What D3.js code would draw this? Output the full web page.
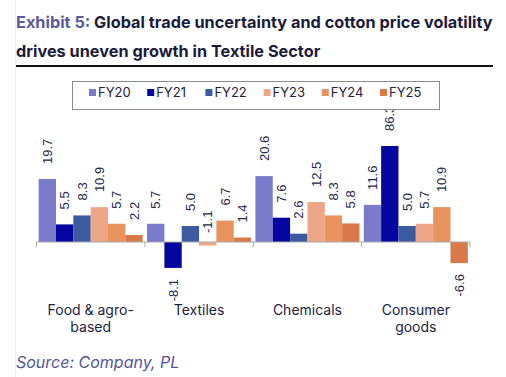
<!DOCTYPE html>
<html>
<head>
<meta charset="utf-8">
<script src="https://cdn.jsdelivr.net/npm/d3@7"></script>
<style>
  body { margin: 0; background: #fff; }
  svg { display: block; }
  .title { font-family: Inter, "Noto Sans", sans-serif; font-weight: 700; font-size: 16.3px; fill: #1c1c3a; }
  .title .ex { fill: #5b5b9c; }
  .cat { font-family: Inter, "Noto Sans", sans-serif; font-size: 14px; fill: #22223f; }
  .val { font-family: "Liberation Sans", Arial, sans-serif; font-size: 13px; fill: #26264a; }
  .legend text { font-family: Inter, "Noto Sans", sans-serif; font-size: 13px; fill: #22223f; }
  .source { font-family: Inter, "Noto Sans", sans-serif; font-style: italic; font-size: 16px; fill: #55559a; }
</style>
</head>
<body>
<div id="chart"></div>
<script>
'use strict';

const categories = [['Food & agro-', 'based'], ['Textiles'], ['Chemicals'], ['Consumer', 'goods']];
const years = ['FY20', 'FY21', 'FY22', 'FY23', 'FY24', 'FY25'];
const growth = [
    [19.7, 5.5, 8.3, 10.9, 5.7, 2.2],
    [5.7, -8.1, 5.0, -1.1, 6.7, 1.4],
    [20.6, 7.6, 2.6, 12.5, 8.3, 5.8],
    [11.6, 86.3, 5.0, 5.7, 10.9, -6.6]
];
const colors = ['#7a7ccb', '#0505a0', '#3c5aa0', '#eea786', '#e8925e', '#d97848'];

const width = 506, height = 377;

const svg = d3.select('#chart').append('svg')
    .attr('width', width)
    .attr('height', height);

// faint page edge
svg.append('line')
    .attr('x1', 15.5).attr('x2', 15.5)
    .attr('y1', 0).attr('y2', height)
    .attr('stroke', '#eeeef6');

// Title
const title = svg.append('text').attr('class', 'title').attr('x', 16).attr('y', 28);
title.append('tspan').attr('class', 'ex').text('Exhibit 5: ');
title.append('tspan').text('Global trade uncertainty and cotton price volatility');
svg.append('text').attr('class', 'title').attr('x', 16).attr('y', 57)
    .text('drives uneven growth in Textile Sector');

svg.append('line')
    .attr('x1', 16).attr('x2', 493)
    .attr('y1', 66).attr('y2', 66)
    .attr('stroke', '#111').attr('stroke-width', 2);

// Scales - value axis is capped at 30, so the 86.3 bar gets clipped
const x0 = d3.scaleBand()
    .domain(categories.map((d, i) => i))
    .range([36.5, 470])
    .paddingInner(0)
    .paddingOuter(0);

const x1 = d3.scaleBand()
    .domain(years)
    .range([0, x0.bandwidth()])
    .paddingOuter(0.125)
    .paddingInner(0);

const y = d3.scaleLinear()
    .domain([-10, 30])
    .range([274, 146])
    .clamp(true);

const groups = svg.append('g').selectAll('g.cat-group')
    .data(growth)
    .join('g')
    .attr('class', 'cat-group')
    .attr('transform', (d, i) => `translate(${x0(i)},0)`);

const barData = row => row.map((v, j) => ({ year: years[j], value: v, color: colors[j] }));

groups.selectAll('rect')
    .data(barData)
    .join('rect')
    .attr('x', d => x1(d.year))
    .attr('width', x1.bandwidth())
    .attr('y', d => Math.min(y(d.value), y(0)))
    .attr('height', d => Math.abs(y(d.value) - y(0)))
    .attr('fill', d => d.color);

// Rotated value labels (tiny negatives sit above the axis, like the original)
const above = d => d.value >= 0 || d.value > -2;

groups.selectAll('text.val')
    .data(barData)
    .join('text')
    .attr('class', 'val')
    .attr('transform', d => {
        const cx = x1(d.year) + x1.bandwidth() / 2;
        let yy;
        if (d.value >= 0) yy = y(d.value) - 15;
        else if (above(d)) yy = y(0) - 9;
        else yy = y(d.value) + 11;
        return `translate(${cx},${yy}) rotate(-90)`;
    })
    .attr('dy', '0.35em')
    .attr('text-anchor', d => above(d) ? 'start' : 'end')
    .text(d => d.value.toFixed(1));

// Category axis
const axis = svg.append('g').attr('transform', `translate(0,${y(0)})`);
axis.append('line')
    .attr('x1', x0.range()[0]).attr('x2', x0.range()[1])
    .attr('stroke', '#a8a8a8');
axis.selectAll('line.tick')
    .data(d3.range(categories.length + 1))
    .join('line')
    .attr('class', 'tick')
    .attr('x1', i => i < categories.length ? x0(i) : x0.range()[1])
    .attr('x2', i => i < categories.length ? x0(i) : x0.range()[1])
    .attr('y1', 0).attr('y2', 5)
    .attr('stroke', '#a8a8a8');

const catLabels = svg.append('g').selectAll('text.cat')
    .data(categories)
    .join('text')
    .attr('class', 'cat')
    .attr('text-anchor', 'middle')
    .attr('x', (d, i) => x0(i) + x0.bandwidth() / 2)
    .attr('y', 315);
catLabels.selectAll('tspan')
    .data(d => d)
    .join('tspan')
    .attr('x', function () { return this.parentNode.getAttribute('x'); })
    .attr('dy', (d, i) => i ? 17 : 0)
    .text(d => d);

// Legend
const legend = svg.append('g').attr('class', 'legend');
legend.append('rect')
    .attr('x', 72.5).attr('y', 81.5)
    .attr('width', 367).attr('height', 28)
    .attr('fill', '#fff').attr('stroke', '#8c8c8c');

const items = legend.selectAll('g.item')
    .data(years)
    .join('g')
    .attr('class', 'item')
    .attr('transform', (d, i) => `translate(${89 + i * 58.2},0)`);
items.append('rect')
    .attr('x', 0).attr('y', 89)
    .attr('width', 7).attr('height', 7)
    .attr('fill', (d, i) => colors[i]);
items.append('text')
    .attr('x', 9).attr('y', 97)
    .text(d => d);

// Source
svg.append('text').attr('class', 'source')
    .attr('x', 16).attr('y', 368)
    .text('Source: Company, PL');
</script>
</body>
</html>
